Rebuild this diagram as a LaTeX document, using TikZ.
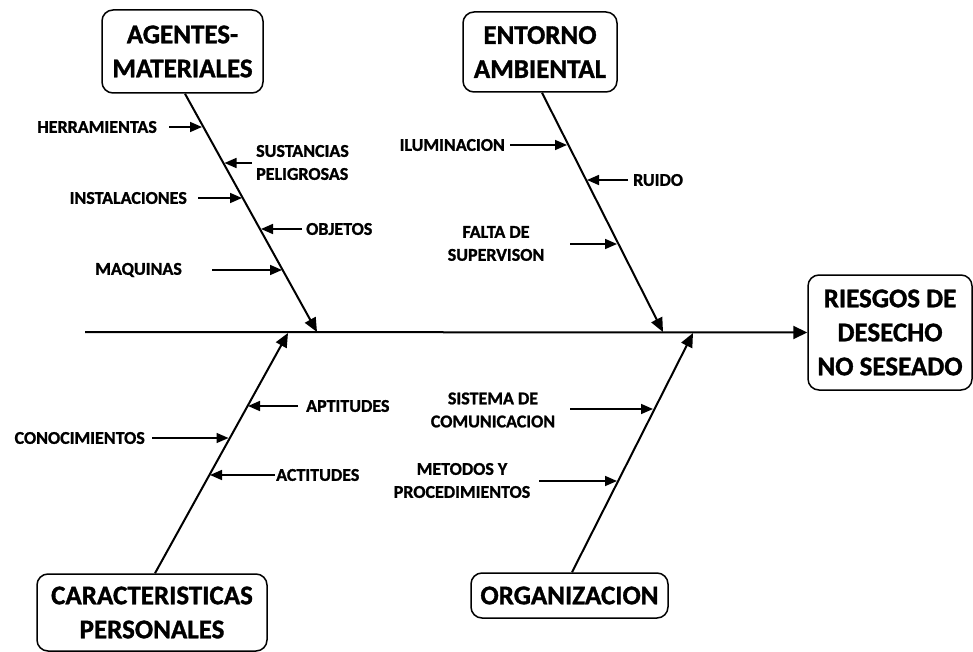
\documentclass[tikz,border=0pt]{standalone}
\usepackage{fontspec}
\setmainfont{Carlito}[BoldFeatures={FakeBold=1.2}]
\usetikzlibrary{arrows.meta}
\begin{document}
\begin{tikzpicture}[x=1pt,y=-1pt,
  catbox/.style={draw,line width=1.5pt,rounded corners=11pt,align=center,inner sep=0pt,
    font=\bfseries\fontsize{27}{34}\selectfont},
  lbl/.style={inner sep=0pt,font=\bfseries\fontsize{18}{23}\selectfont},
  bone/.style={line width=2pt,-{Triangle[length=14pt,width=12pt]}},
  sub/.style={line width=1.6pt,-{Triangle[length=12pt,width=10pt]}},
  spine/.style={line width=2pt,-{Triangle[length=14pt,width=13pt]}}]
\useasboundingbox (0,0) rectangle (973,652);
% category boxes
\node[catbox,minimum width=161pt,minimum height=83pt] (agentes) at (182.5,51.5) {AGENTES-\\MATERIALES};
\node[catbox,minimum width=154pt,minimum height=80pt] (entorno) at (540,52) {ENTORNO\\AMBIENTAL};
\node[catbox,minimum width=230pt,minimum height=77pt] (caract) at (152,612.5) {CARACTERISTICAS\\PERSONALES};
\node[catbox,minimum width=197pt,minimum height=45pt] (organ) at (569.5,595.5) {ORGANIZACION};
\node[catbox,minimum width=164pt,minimum height=115pt] (riesgos) at (890,332.5) {RIESGOS DE\\DESECHO\\NO SESEADO};
% spine
\coordinate (s0) at (85,332);
\draw[spine] (s0) -- (riesgos.west);
% junctions on spine
\coordinate (jA) at (317,332);
\coordinate (jE) at (663,332);
\coordinate (jC) at (288,333);
\coordinate (jO) at (693,333);
% bones
\draw[bone] ([xshift=2.5pt]agentes.south) -- (jA);
\draw[bone] ([xshift=2pt]entorno.south) -- (jE);
\draw[bone] ([xshift=3pt]caract.north) -- (jC);
\draw[bone] ([xshift=2.5pt]organ.north) -- (jO);
% labels: agentes materiales
\node[lbl,anchor=east] (herr) at (157,127) {HERRAMIENTAS};
\coordinate (herrT) at (202,127);
\draw[sub] (herr.east) ++(12,0) -- (herrT);
\node[lbl,anchor=west,align=left] (sust) at (256,162.5) {SUSTANCIAS\\PELIGROSAS};
\coordinate (sustT) at (224.5,163);
\draw[sub] (252,163) -- (sustT);
\node[lbl,anchor=east] (inst) at (187,198) {INSTALACIONES};
\coordinate (instT) at (242,198);
\draw[sub] (inst.east) ++(11,0) -- (instT);
\node[lbl,anchor=west] (obj) at (306,229) {OBJETOS};
\coordinate (objT) at (261,229);
\draw[sub] (obj.west) ++(-4,0) -- (objT);
\node[lbl,anchor=east] (maq) at (182,270) {MAQUINAS};
\coordinate (maqT) at (282,270);
\draw[sub] (212,270) -- (maqT);
% entorno ambiental
\node[lbl,anchor=east] (ilum) at (505,145) {ILUMINACION};
\coordinate (ilumT) at (567,145);
\draw[sub] (ilum.east) ++(5,0) -- (ilumT);
\node[lbl,anchor=west] (ruido) at (633,180) {RUIDO};
\coordinate (ruidoT) at (587,180);
\draw[sub] (ruido.west) ++(-5,0) -- (ruidoT);
\node[lbl,align=center] (falta) at (496,243.5) {FALTA DE\\SUPERVISON};
\coordinate (faltaT) at (617,244);
\draw[sub] (570,244) -- (faltaT);
% caracteristicas personales
\node[lbl,anchor=west] (apt) at (306,406) {APTITUDES};
\coordinate (aptT) at (248,406);
\draw[sub] (apt.west) ++(-8,0) -- (aptT);
\node[lbl,anchor=east] (conoc) at (145,438) {CONOCIMIENTOS};
\coordinate (conocT) at (228.5,438);
\draw[sub] (conoc.east) ++(7,0) -- (conocT);
\node[lbl,anchor=west] (act) at (276,475) {ACTITUDES};
\coordinate (actT) at (210,475);
\draw[sub] (act.west) ++(-1,0) -- (actT);
% organizacion
\node[lbl,align=center] (sist) at (493,410) {SISTEMA DE\\COMUNICACION};
\coordinate (sistT) at (653,409);
\draw[sub] (570,409) -- (sistT);
\node[lbl,align=center] (metod) at (462,480.5) {METODOS Y\\PROCEDIMIENTOS};
\coordinate (metodT) at (617,481);
\draw[sub] (539,481) -- (metodT);
\end{tikzpicture}
\end{document}
